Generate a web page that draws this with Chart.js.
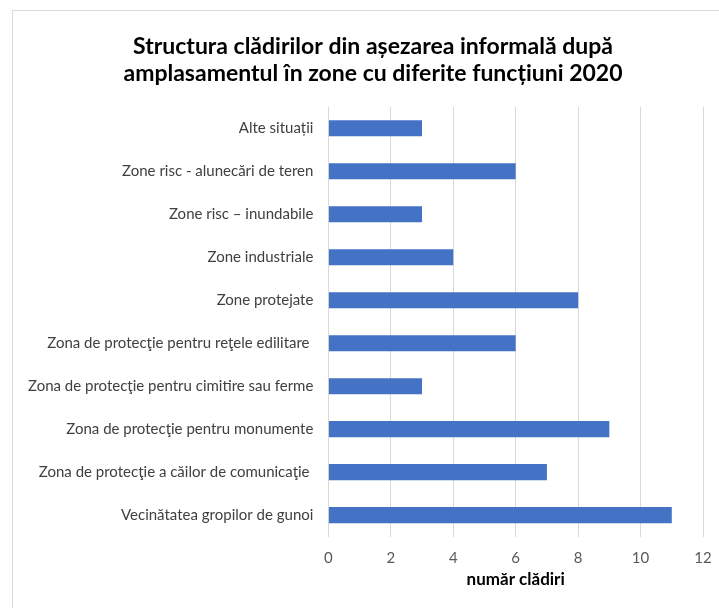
<!DOCTYPE html>
<html>
<head>
<meta charset="utf-8">
<script src="https://cdn.jsdelivr.net/npm/chart.js@4"></script>
<style>
html,body{margin:0;padding:0;background:#fff;overflow:hidden;width:719px;height:608px;}
#wrap{position:absolute;left:12px;top:10px;width:722px;height:620px;border:1px solid #d9d9d9;box-sizing:border-box;}
canvas{display:block;}
</style>
</head>
<body>
<div id="wrap"><canvas id="c" width="720" height="597"></canvas></div>
<script>
const categories = [
  "Alte situații",
  "Zone risc - alunecări de teren",
  "Zone risc – inundabile",
  "Zone industriale",
  "Zone protejate",
  "Zona de protecţie pentru reţele edilitare ",
  "Zona de protecţie pentru cimitire sau ferme",
  "Zona de protecţie pentru monumente",
  "Zona de protecţie a căilor de comunicaţie ",
  "Vecinătatea gropilor de gunoi"
];
const values = [3, 6, 3, 4, 8, 6, 3, 9, 7, 11];
const titleLines = [
  "Structura clădirilor din așezarea informală după",
  "amplasamentul în zone cu diferite funcțiuni 2020"
];
const xAxisTitle = "număr clădiri";

const FONT = "Lato, 'Liberation Sans', sans-serif";

const centerTitle = {
  id: 'centerTitle',
  afterLayout(chart) {
    const t = chart.titleBlock;
    if (t) { t.left = 0; t.right = chart.width; t.width = chart.width; }
  }
};

new Chart(document.getElementById('c'), {
  type: 'bar',
  data: {
    labels: categories,
    datasets: [{
      data: values,
      backgroundColor: '#4472C4',
      borderWidth: 0,
      categoryPercentage: 1,
      barPercentage: 0.374
    }]
  },
  plugins: [centerTitle],
  options: {
    indexAxis: 'y',
    responsive: false,
    animation: false,
    devicePixelRatio: 1,
    layout: { padding: { left: 0, right: 30, top: 0, bottom: 18 } },
    plugins: {
      legend: { display: false },
      tooltip: { enabled: false },
      title: {
        display: true,
        text: titleLines,
        color: '#000',
        font: { family: FONT, size: 23, weight: 'bold', lineHeight: 1.17 },
        padding: { top: 22, bottom: 20 }
      }
    },
    scales: {
      x: {
        min: 0, max: 12,
        ticks: { stepSize: 2, color: '#595959', padding: 13, font: { family: FONT, size: 15 } },
        grid: { color: '#d9d9d9', drawTicks: false },
        border: { display: false },
        title: {
          display: true, text: xAxisTitle, color: '#000',
          font: { family: FONT, size: 17, weight: 'bold', lineHeight: 1.2 },
          padding: { top: -11, bottom: 0 }
        }
      },
      y: {
        ticks: { color: '#404040', padding: 15, font: { family: FONT, size: 15 } },
        grid: { display: false, drawTicks: false },
        border: { display: false }
      }
    }
  }
});
</script>
</body>
</html>
